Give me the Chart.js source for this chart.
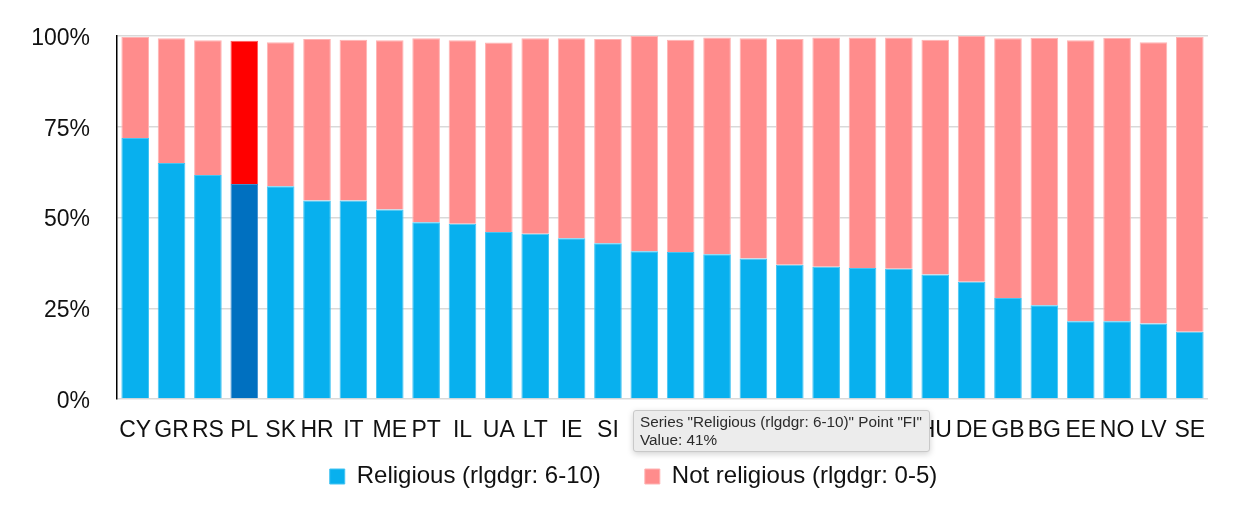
<!DOCTYPE html>
<html>
<head>
<meta charset="utf-8">
<script src="https://cdn.jsdelivr.net/npm/chart.js@4"></script>
<style>
  html, body { margin: 0; padding: 0; background: #fff; }
  #wrap { position: relative; width: 1240px; height: 528px; }
  #tip {
    position: absolute; left: 633px; top: 410px; width: 283px; height: 36px;
    padding: 2px 6px 2px 6px; background: #ececec; border: 1px solid #c9c9c9;
    border-radius: 3px; box-shadow: 0 2px 6px rgba(0,0,0,0.18);
    font-family: "Liberation Sans", Arial, sans-serif; font-size: 15.3px; line-height: 18px; color: #2b2b2b;
    white-space: nowrap;
  }
</style>
</head>
<body>
<div id="wrap">
  <canvas id="c" width="1240" height="528"></canvas>
  <div id="tip">Series "Religious (rlgdgr: 6-10)" Point "FI"<br>Value: 41%</div>
</div>
<script>
const categories = ["CY","GR","RS","PL","SK","HR","IT","ME","PT","IL","UA","LT","IE","SI","FI","AT","CH","ES","IS","BE","NL","FR","HU","DE","GB","BG","EE","NO","LV","SE"];
const religious = [71.9,65.0,61.7,59.2,58.6,54.7,54.7,52.2,48.7,48.3,46.0,45.5,44.3,42.9,40.7,40.5,39.9,38.7,37.0,36.4,36.1,35.9,34.3,32.3,27.8,25.8,21.4,21.4,20.8,18.5];
const notReligious = [27.8,34.4,37.1,39.5,39.7,44.5,44.3,46.6,50.7,50.5,52.2,53.9,55.1,56.3,59.3,58.5,59.7,60.7,62.2,63.2,63.5,63.7,64.7,67.7,71.6,73.7,77.4,78.1,77.5,81.2];
const yTicks = [0,25,50,75,100];
const seriesNames = ["Religious (rlgdgr: 6-10)", "Not religious (rlgdgr: 0-5)"];
const highlight = "PL";

const FONT = '"Liberation Sans", Arial, sans-serif';
const TICK_SIZE = 23;
const blue = '#08B0EE', blueB = '#44C4F2', blueHi = '#0070C0', blueHiB = '#3D8FD0';
const pink = '#FF8C8C', pinkB = '#FFB3B3', redHi = '#FF0000', redHiB = '#FF5A5A';

const bg1 = categories.map(c => c === highlight ? blueHi : blue);
const bd1 = categories.map(c => c === highlight ? blueHiB : blueB);
const bg2 = categories.map(c => c === highlight ? redHi : pink);
const bd2 = categories.map(c => c === highlight ? redHiB : pinkB);

// width of widest y tick label, used to right-align mirrored labels
const mctx = document.createElement('canvas').getContext('2d');
mctx.font = TICK_SIZE + 'px ' + FONT;
const widestY = Math.max(...yTicks.map(v => mctx.measureText(v + '%').width));

new Chart(document.getElementById('c'), {
  type: 'bar',
  data: {
    labels: categories,
    datasets: [
      { label: seriesNames[0], data: religious, backgroundColor: bg1, borderColor: bd1, borderWidth: 1,
        barPercentage: 0.76, categoryPercentage: 1.0 },
      { label: seriesNames[1], data: notReligious, backgroundColor: bg2, borderColor: bd2, borderWidth: 1,
        barPercentage: 0.76, categoryPercentage: 1.0 }
    ]
  },
  options: {
    responsive: false,
    animation: false,
    devicePixelRatio: 1,
    layout: { padding: { top: 36, left: 59, right: 32, bottom: 29.5 } },
    plugins: {
      tooltip: { enabled: false },
      legend: {
        position: 'bottom',
        labels: {
          font: { family: FONT, size: 24 },
          color: '#111',
          boxWidth: 15, boxHeight: 15,
          padding: 44
        }
      }
    },
    scales: {
      x: {
        stacked: true,
        grid: { display: false, drawTicks: false },
        border: { display: false },
        ticks: { font: { family: FONT, size: TICK_SIZE }, color: '#111', mirror: true, padding: -45.3,
                 maxRotation: 0, autoSkip: false },
        afterFit: s => { s.height = 21.5; }
      },
      y: {
        stacked: true,
        min: 0, max: 100,
        afterBuildTicks: s => { s.ticks = yTicks.map(v => ({ value: v })); },
        grid: { color: '#d9d9d9', lineWidth: 1.5, drawTicks: false },
        border: { color: '#000', width: 1.5 },
        ticks: { font: { family: FONT, size: TICK_SIZE }, color: '#111', mirror: true, crossAlign: 'far',
                 padding: -27 - widestY, labelOffset: 2.5, callback: v => v + '%' },
        afterFit: s => { s.width = 58; }
      }
    }
  }
});
</script>
</body>
</html>
